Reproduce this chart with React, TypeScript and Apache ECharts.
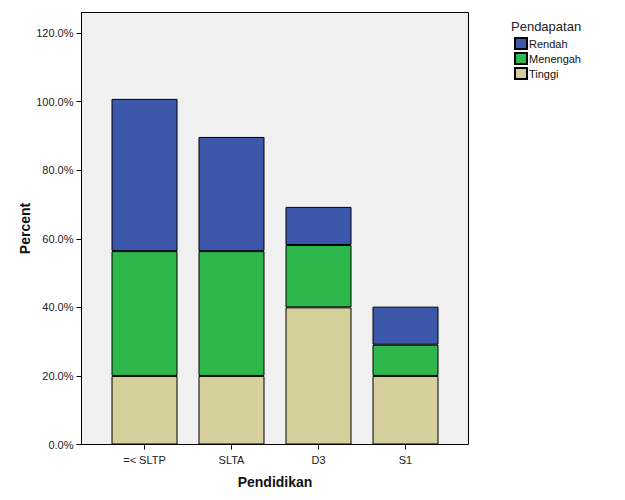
import React, { useEffect, useRef } from "react";
import * as echarts from "echarts";

const categories = ["=< SLTP", "SLTA", "D3", "S1"];
const rendah = [44.4, 33.3, 11.1, 11.1];
const menengah = [36.4, 36.4, 18.2, 9.1];
const tinggi = [20.0, 20.0, 40.0, 20.0];
const yTicks = [0, 20, 40, 60, 80, 100, 120];

const FONT = "'Liberation Sans', Arial, sans-serif";

export default function App() {
  const ref = useRef<HTMLDivElement>(null);
  useEffect(() => {
    if (!ref.current) return;
    const chart = echarts.init(ref.current, undefined, { renderer: "svg" });
    const barStyle = (color: string) => ({ color, borderColor: "#000", borderWidth: 1 });
    chart.setOption({
      animation: false,
      backgroundColor: "#fff",
      textStyle: { fontFamily: FONT },
      title: {
        text: "Pendapatan",
        left: 506,
        top: 15,
        textStyle: { fontFamily: FONT, fontSize: 13, fontWeight: "normal", color: "#222" },
      },
      legend: {
        orient: "vertical",
        left: 509,
        top: 32,
        icon: "rect",
        itemWidth: 12,
        itemHeight: 11,
        itemGap: 2,
        data: ["Rendah", "Menengah", "Tinggi"],
        textStyle: { fontFamily: FONT, fontSize: 11, color: "#111", padding: [0, 0, 0, -3] },
      },
      graphic: [
        {
          type: "rect",
          z: -10,
          silent: true,
          shape: { x: 81.5, y: 12.5, width: 387, height: 432 },
          style: { fill: "#f0f0f0", stroke: "#000", lineWidth: 1 },
        },
      ],
      grid: { left: 101, right: 176, top: 12.5, bottom: 55.5 },
      xAxis: {
        type: "category",
        data: categories,
        axisLine: { show: false },
        axisTick: { show: true, alignWithLabel: true, length: 5, lineStyle: { color: "#000" } },
        axisLabel: { fontFamily: FONT, fontSize: 11, color: "#222", margin: 10 },
        name: "Pendidikan",
        nameLocation: "middle",
        nameGap: 30,
        nameMoveOverlap: false,
        nameTextStyle: { fontFamily: FONT, fontSize: 14, fontWeight: "bold", color: "#111" },
      },
      yAxis: {
        type: "value",
        min: 0,
        max: 126,
        interval: 20,
        offset: 19.5,
        splitLine: { show: false },
        axisLine: { show: true, lineStyle: { color: "#000" } },
        axisTick: { show: true, length: 5, lineStyle: { color: "#000" }, customValues: yTicks },
        axisLabel: {
          fontFamily: FONT,
          fontSize: 11,
          color: "#222",
          margin: 8,
          customValues: yTicks,
          formatter: (v: number) => v.toFixed(1) + "%",
        },
        name: "Percent",
        nameLocation: "middle",
        nameGap: 50,
        nameMoveOverlap: false,
        nameTextStyle: { fontFamily: FONT, fontSize: 14, fontWeight: "bold", color: "#111" },
      },
      series: [
        { name: "Tinggi", type: "bar", stack: "a", barWidth: 66, data: tinggi, itemStyle: barStyle("#d5cf9b") },
        { name: "Menengah", type: "bar", stack: "a", barWidth: 66, data: menengah, itemStyle: barStyle("#2eb74a") },
        { name: "Rendah", type: "bar", stack: "a", barWidth: 66, data: rendah, itemStyle: barStyle("#3d57aa") },
      ],
    });
    return () => chart.dispose();
  }, []);
  return (
    <div
      ref={ref}
      style={{ position: "fixed", left: 0, top: 0, width: 625, height: 500 }}
    />
  );
}
